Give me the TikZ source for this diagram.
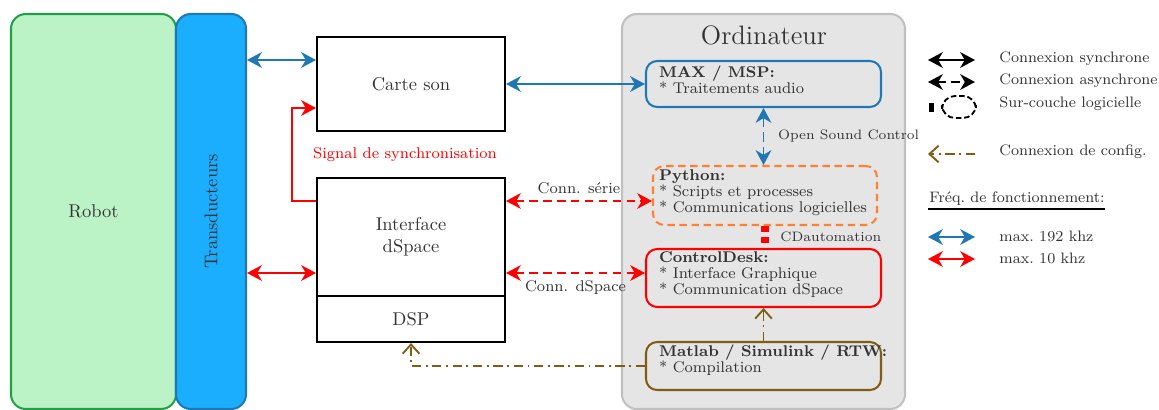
\documentclass[tikz,border=0pt]{standalone}
\usetikzlibrary{arrows.meta,fit,calc}
\definecolor{bleu}{RGB}{31,120,180}
\definecolor{cyan2}{RGB}{27,174,255}
\definecolor{vert}{RGB}{187,242,198}
\definecolor{vertfonce}{RGB}{34,160,72}
\definecolor{gris}{RGB}{229,229,229}
\definecolor{grisbord}{RGB}{192,192,192}
\definecolor{orange2}{RGB}{255,128,48}
\definecolor{brun}{RGB}{128,92,20}
\begin{document}
\begin{tikzpicture}[x=0.019cm,y=-0.019cm,
		every node/.style={text=black!80},
		bloc/.style={draw=black, line width=1.1pt, inner sep=0pt},
		doux/.style={rounded corners=6pt, line width=1.1pt, inner sep=0pt},
		contenu/.style={anchor=north west, align=left, inner sep=2pt, font=\fontsize{8.4}{8.6}\selectfont},
		legende/.style={anchor=west, inner sep=0pt, font=\fontsize{8.2}{10}\selectfont},
		petit/.style={font=\fontsize{7.4}{9}\selectfont},
		pointe/.tip={Stealth[length=8pt,width=8.5pt,inset=2.5pt]},
		lien/.style={line width=1pt, pointe-pointe},
		async/.style={lien, dash pattern=on 4.5pt off 3pt},
		config/.style={draw=brun, line width=1pt, dash pattern=on 5pt off 2.5pt on 1pt off 2.5pt, -{Straight Barb[length=5pt,width=9pt]}}]
		\useasboundingbox (0,0) rectangle (1159,410);

		% Robot et transducteurs
		\node[doux, rounded corners=8pt, draw=vertfonce, fill=vert, fit={(11,14) (176,409)}] (robot) {};
		\node at (robot) {Robot};
		\node[doux, rounded corners=8pt, draw=bleu, fill=cyan2, fit={(176,14) (246,409)}] (trans) {};
		\node[rotate=90] at (trans) {Transducteurs};

		% Materiel
		\node[bloc, fit={(317,37) (505,131)}] (carte) {};
		\node at (carte) {Carte son};
		\node[bloc, fit={(317,178) (505,296)}] (iface) {};
		\node[align=center] at (iface) {Interface\\dSpace};
		\node[bloc, fit={(317,296) (505,342)}] (dsp) {};
		\node at (dsp) {DSP};

		% Ordinateur
		\node[doux, rounded corners=8pt, draw=grisbord, fill=gris, fit={(622,14) (905,409)}] (ordi) {};
		\node[font=\Large] (titre) at (764,35) {Ordinateur};

		\node[doux, draw=bleu, fit={(646,61) (881,107)}] (max) {};
		\node[contenu] (tmax) at ($(max.north west)+(10,2)$) {\textbf{MAX / MSP:}\\* Traitements audio};
		\node[doux, draw=orange2, dash pattern=on 4pt off 2.5pt, fit={(653,166) (877,225)}] (python) {};
		\node[contenu] (tpython) at ($(python.north west)+(3,1)$) {\textbf{Python:}\\* Scripts et processes\\* Communications logicielles};
		\node[doux, draw=red, fit={(646,249) (881,307)}] (cd) {};
		\node[contenu] (tcd) at ($(cd.north west)+(10,0)$) {\textbf{ControlDesk:}\\* Interface Graphique\\* Communication dSpace};
		\node[doux, draw=brun, fit={(646,342) (881,390)}] (matlab) {};
		\node[contenu] (tmatlab) at ($(matlab.north west)+(10,0)$) {\textbf{Matlab / Simulink / RTW:}\\* Compilation};

		% Points d'accroche
		\coordinate (c1) at ($(carte.north west)!0.25!(carte.south west)$);
		\coordinate (c2) at ($(carte.north west)!0.75!(carte.south west)$);
		\coordinate (i1) at ($(iface.north west)!0.2!(iface.south west)$);
		\coordinate (i2) at ($(iface.north west)!0.8!(iface.south west)$);
		\coordinate (e1) at ($(iface.north east)!0.2!(iface.south east)$);
		\coordinate (e2) at ($(iface.north east)!0.8!(iface.south east)$);

		% Connexions
		\draw[lien, bleu] (c1 -| trans.east) -- (c1);
		\draw[lien, red] (i2 -| trans.east) -- (i2);
		\draw[lien, bleu] (carte.east) -- (carte.east -| max.west);
		\draw[async, red] (e1) -- node[above, font=\fontsize{8.4}{10}\selectfont] (lserie) {Conn. série} (e1 -| python.west);
		\draw[async, red] (e2) -- node[below, font=\fontsize{8.4}{10}\selectfont] (ldspace) {Conn. dSpace} (e2 -| cd.west);
		\draw[lien, bleu, dash pattern=on 5pt off 3pt] (max.south) -- node[right=4pt, petit] (losc) {Open Sound Control} (max.south |- python.north);
		\draw[red, line width=4pt, dash pattern=on 3pt off 3pt] (python.south) -- node[right=3pt, petit] (lcda) {CDautomation} (python.south |- cd.north);
		\draw[config] (matlab.north) -- (matlab.north |- cd.south);
		\draw[config] (matlab.west) -| (dsp.south);

		% Signal de synchronisation
		\draw[red, line width=1pt, -pointe] (i1) -- ++(-24,0) |- (c2);
		\node[text=red, font=\fontsize{8.4}{10}\selectfont] (lsync) at (405,155) {Signal de synchronisation};

		% Legende
		\draw[lien, black] (928,60) -- (975,60);
		\node[legende] at (999,59) {Connexion synchrone};
		\draw[async, black] (928,82) -- (975,82);
		\node[legende] at (999,81) {Connexion asynchrone};
		\fill[black] (929,103) rectangle (934,112);
		\draw[black, line width=1pt, dash pattern=on 3pt off 1.5pt, rounded corners=7pt] (942,96) rectangle (976,118);
		\node[legende] at (999,104) {Sur-couche logicielle};
		\draw[config] (975,154) -- (928,154);
		\node[legende] at (999,152) {Connexion de config.};
		\node[legende] (freq) at (929,199) {Fréq.\ de fonctionnement:};
		\draw[line width=1pt] (928,209) -- (1105,209);
		\draw[lien, bleu] (928,237) -- (975,237);
		\node[legende] at (999,236) {max.\ 192 khz};
		\draw[lien, red] (928,259) -- (975,259);
		\node[legende] at (999,258) {max.\ 10 khz};
	\end{tikzpicture}
\end{document}
